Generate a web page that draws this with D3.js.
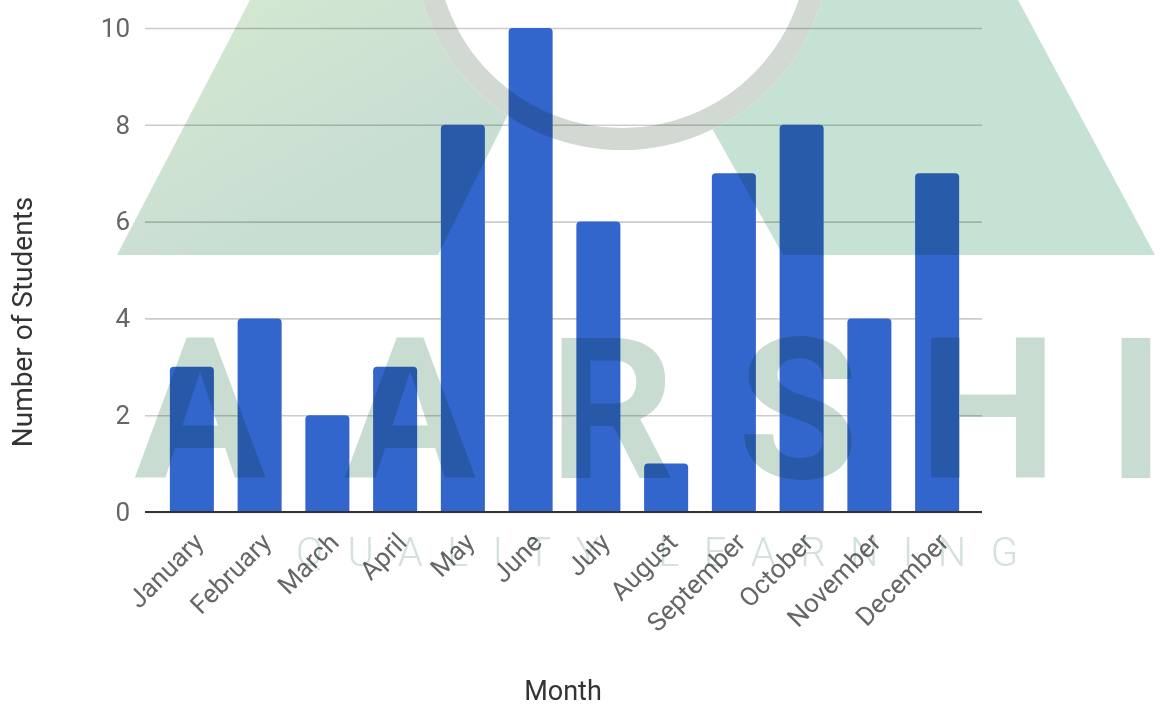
<!DOCTYPE html>
<html>
<head>
<meta charset="utf-8">
<script src="https://cdn.jsdelivr.net/npm/d3@7"></script>
<style>
  html, body { margin: 0; padding: 0; background: #fff; }
  .chart text { font-family: Roboto, "Liberation Sans", sans-serif; }
</style>
</head>
<body>
<div class="chart"></div>
<script>
// data
const months = ['January', 'February', 'March', 'April', 'May', 'June',
  'July', 'August', 'September', 'October', 'November', 'December'];
const students = [3, 4, 2, 3, 8, 10, 6, 1, 7, 8, 4, 7];
const yTicks = [0, 2, 4, 6, 8, 10];
const xTitle = 'Month';
const yTitle = 'Number of Students';
const markLetters = ['A', 'A', 'R', 'S', 'H', 'I'];
const markTagline = 'QUALITY LEARNING';

const width = 1163, height = 707;
const plot = { left: 145, right: 982, top: 28, bottom: 512 };

const svg = d3.select('.chart')
  .append('svg')
    .attr('width', width)
    .attr('height', height);

const y = d3.scaleLinear()
  .domain([0, d3.max(yTicks)])
  .range([plot.bottom, plot.top]);

const x = d3.scaleBand()
  .domain(months)
  .range([158, 971])
  .paddingInner(0.35)
  .paddingOuter(0.175);

// gridlines + y tick labels
const yAxis = d3.axisLeft(y)
  .tickValues(yTicks)
  .tickSize(-(plot.right - plot.left))
  .tickPadding(15);

const yAxisGroup = svg.append('g')
  .attr('transform', `translate(${plot.left}, 0)`)
  .call(yAxis);

yAxisGroup.select('.domain').remove();
yAxisGroup.selectAll('line').attr('stroke', '#cccccc').attr('stroke-width', 1.6);
yAxisGroup.selectAll('text')
  .attr('fill', '#666')
  .attr('font-size', 26);

// bars
svg.append('g').selectAll('path')
  .data(months.map((m, i) => ({ month: m, value: students[i] })))
  .enter()
  .append('path')
    .attr('fill', '#3366cc')
    .attr('d', d => {
      const x0 = x(d.month), w = x.bandwidth();
      const top = y(d.value), base = y(0), r = 4;
      return `M${x0},${base}V${top + r}Q${x0},${top} ${x0 + r},${top}` +
        `H${x0 + w - r}Q${x0 + w},${top} ${x0 + w},${top + r}V${base}Z`;
    });

// baseline
svg.append('line')
  .attr('x1', plot.left).attr('x2', plot.right)
  .attr('y1', y(0)).attr('y2', y(0))
  .attr('stroke', '#333').attr('stroke-width', 2.2);

// x axis labels
const xAxis = d3.axisBottom(x).tickSize(0).tickPadding(0);
const xAxisGroup = svg.append('g')
  .attr('transform', `translate(0, ${plot.bottom})`)
  .call(xAxis);
xAxisGroup.select('.domain').remove();
xAxisGroup.selectAll('text')
  .attr('fill', '#666')
  .attr('font-size', 26)
  .attr('text-anchor', 'end')
  .attr('dy', 0)
  .attr('transform', 'translate(13, 32) rotate(-45)');

// axis titles
svg.append('text')
  .attr('x', 563).attr('y', 700)
  .attr('text-anchor', 'middle')
  .attr('font-size', 27)
  .attr('fill', '#333')
  .text(xTitle);

svg.append('text')
  .attr('transform', 'translate(32, 322) rotate(-90)')
  .attr('text-anchor', 'middle')
  .attr('font-size', 28)
  .attr('fill', '#333')
  .text(yTitle);

// watermark overlay
const defs = svg.append('defs');
const grad = defs.append('linearGradient')
  .attr('id', 'legGrad').attr('x1', 0).attr('y1', 0).attr('x2', 1).attr('y2', 1);
grad.append('stop').attr('offset', '0%').attr('stop-color', '#d6ead0');
grad.append('stop').attr('offset', '60%').attr('stop-color', '#c9ded3');

const ring = { cx: 622, cy: -58, r: 208 };
const mask = defs.append('mask').attr('id', 'ringCut');
mask.append('rect').attr('width', width).attr('height', height).attr('fill', '#fff');
mask.append('circle').attr('cx', ring.cx).attr('cy', ring.cy).attr('r', ring.r).attr('fill', '#000');

const mark = svg.append('g')
  .style('mix-blend-mode', 'multiply')
  .style('pointer-events', 'none');

const legs = mark.append('g').attr('mask', 'url(#ringCut)');
legs.append('path')
  .attr('fill', 'url(#legGrad)')
  .attr('d', 'M117,255L250,0H565L438,255Z');
legs.append('path')
  .attr('fill', '#c6e2d4')
  .attr('d', 'M783,255L640,0H1018L1155,255Z');

mark.append('circle')
  .attr('cx', ring.cx).attr('cy', ring.cy).attr('r', ring.r - 11)
  .attr('fill', 'none')
  .attr('stroke', '#d2d9d2')
  .attr('stroke-width', 22);

const letterX = [200, 410, 612, 798, 988, 1136];
mark.append('g').selectAll('text')
  .data(markLetters)
  .enter()
  .append('text')
    .attr('x', (d, i) => letterX[i])
    .attr('y', 478)
    .attr('text-anchor', 'middle')
    .attr('font-family', '"DejaVu Sans", sans-serif')
    .attr('font-weight', 'bold')
    .attr('font-size', 196)
    .attr('fill', '#c8dcd2')
    .text(d => d);

mark.append('text')
  .attr('x', 296).attr('y', 566)
  .attr('textLength', 722)
  .attr('lengthAdjust', 'spacing')
  .attr('font-family', 'Roboto, sans-serif')
  .attr('font-weight', 300)
  .attr('font-size', 40)
  .attr('fill', '#d3e2da')
  .text(markTagline);
</script>
</body>
</html>
